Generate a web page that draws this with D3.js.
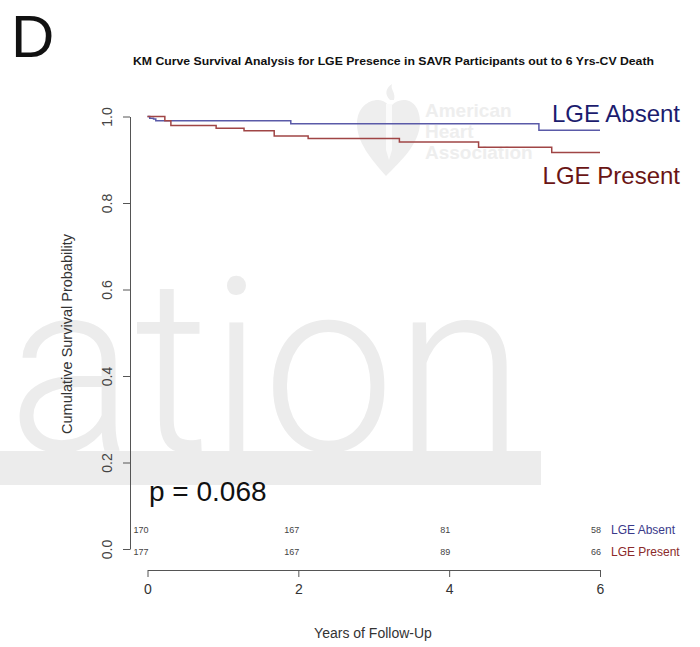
<!DOCTYPE html>
<html>
<head>
<meta charset="utf-8">
<script src="https://cdn.jsdelivr.net/npm/d3@7"></script>
<style>
  html, body { margin: 0; padding: 0; background: #fff; }
  svg { display: block; }
</style>
</head>
<body>
<svg id="chart" width="700" height="647"></svg>
<script>
// ---- data ----
const timesAbsent  = [0, 0.03, 0.08, 0.11, 1.90, 5.19];
const survAbsent   = [1.000, 0.996, 0.994, 0.990, 0.983, 0.968];
const timesPresent = [0, 0.23, 0.31, 0.91, 1.28, 1.68, 2.13, 3.34, 4.39, 5.36];
const survPresent  = [1.000, 0.990, 0.979, 0.973, 0.967, 0.955, 0.949, 0.941, 0.929, 0.917];
const followUpEnd  = 6;
const riskTimes      = [0, 2, 4, 6];
const atRiskAbsent   = [170, 167, 81, 58];
const atRiskPresent  = [177, 167, 89, 66];
const xTicks = [0, 2, 4, 6];
const yTicks = [0, 0.2, 0.4, 0.6, 0.8, 1.0];
const groupNames = ["LGE Absent", "LGE Present"];
const pValueText = "p = 0.068";
const titleText = "KM Curve Survival Analysis for LGE Presence in SAVR Participants out to 6 Yrs-CV Death";

const svg = d3.select("#chart");
const x = d3.scaleLinear().domain([0, 6]).range([147.5, 600]);
const y = d3.scaleLinear().domain([0, 1]).range([549, 116.5]);

const FONT = "'Liberation Sans', Arial, Helvetica, sans-serif";

// ---- watermark (background) ----
const wm = svg.append("g").attr("fill", "#ececec");
wm.append("text")
  .attr("x", 8).attr("y", 451)
  .attr("font-family", "Roboto, 'Liberation Sans', sans-serif")
  .attr("font-weight", 300)
  .attr("font-size", 244)
  .attr("textLength", 516).attr("lengthAdjust", "spacingAndGlyphs")
  .text("ation");
wm.append("rect").attr("x", 0).attr("y", 451).attr("width", 541).attr("height", 34);

// AHA logo watermark
const logo = svg.append("g").attr("fill", "#eeeeee");
logo.append("path")
  .attr("d", "M386,176 C372,160 357,143 357,124 C357,108 368,100 378,100 C384,100 388,104 390,108 C392,104 397,100 404,100 C414,100 420,110 420,122 C420,143 402,160 386,176 Z");
logo.append("path").attr("fill", "#fbfbfb")
  .attr("d", "M386,104 L392,104 L392,150 L389,160 L386,150 Z");
logo.append("path")
  .attr("d", "M390,100 C384,94 386,88 392,84 C390,90 396,92 394,100 Z");
logo.selectAll("text.aha").data(["American", "Heart", "Association"]).join("text")
  .attr("class", "aha")
  .attr("x", 425).attr("y", (d, i) => 117 + i * 21)
  .attr("font-family", FONT).attr("font-weight", "bold").attr("font-size", 19)
  .text(d => d);

// ---- panel letter ----
svg.append("text").attr("x", 11).attr("y", 57)
  .attr("font-family", FONT).attr("font-size", 60)
  .attr("fill", "#111").text("D");

// ---- title ----
svg.append("text").attr("x", 133).attr("y", 65)
  .attr("font-family", FONT).attr("font-weight", "bold").attr("font-size", 11.5)
  .attr("textLength", 521).attr("lengthAdjust", "spacingAndGlyphs")
  .attr("fill", "#111").text(titleText);

// ---- axes ----
const axisColor = "#555";
const yAxis = svg.append("g").attr("transform", "translate(130,0)")
  .call(d3.axisLeft(y).tickValues(yTicks).tickFormat(d3.format(".1f")).tickSize(7).tickSizeOuter(0));
yAxis.select(".domain").attr("stroke", axisColor);
yAxis.selectAll(".tick line").attr("stroke", axisColor);
yAxis.selectAll(".tick text")
  .attr("transform", "rotate(-90)")
  .attr("x", 0).attr("y", -18).attr("dy", 0)
  .attr("text-anchor", "middle")
  .attr("font-family", FONT).attr("font-size", 14).attr("fill", "#444");

const xAxis = svg.append("g").attr("transform", "translate(0,570)")
  .call(d3.axisBottom(x).tickValues(xTicks).tickFormat(d3.format("d")).tickSize(7).tickSizeOuter(0));
xAxis.select(".domain").attr("stroke", axisColor);
xAxis.selectAll(".tick line").attr("stroke", axisColor);
xAxis.selectAll(".tick text")
  .attr("y", 14).attr("dy", "0.71em")
  .attr("font-family", FONT).attr("font-size", 14).attr("fill", "#333");

svg.append("text").attr("x", 373).attr("y", 638).attr("text-anchor", "middle")
  .attr("font-family", FONT).attr("font-size", 14).attr("fill", "#333")
  .text("Years of Follow-Up");
svg.append("text").attr("transform", "translate(72,334) rotate(-90)")
  .attr("text-anchor", "middle")
  .attr("font-family", FONT).attr("font-size", 14.5).attr("fill", "#333")
  .text("Cumulative Survival Probability");

// ---- KM curves ----
const line = d3.line().x(d => x(d[0])).y(d => y(d[1])).curve(d3.curveStepAfter);
function steps(times, surv) {
  const pts = times.map((t, i) => [t, surv[i]]);
  pts.push([followUpEnd, surv[surv.length - 1]]);
  return pts;
}
const curveColors = ["#5a5aa8", "#a04545"];
svg.append("path").datum(steps(timesAbsent, survAbsent))
  .attr("fill", "none").attr("stroke", curveColors[0]).attr("stroke-width", 1.5).attr("d", line);
svg.append("path").datum(steps(timesPresent, survPresent))
  .attr("fill", "none").attr("stroke", curveColors[1]).attr("stroke-width", 1.5).attr("d", line);

// curve labels
svg.append("text").attr("x", 680).attr("y", 122).attr("text-anchor", "end")
  .attr("font-family", FONT).attr("font-size", 24).attr("fill", "#1c1c6e").text(groupNames[0]);
svg.append("text").attr("x", 680).attr("y", 184).attr("text-anchor", "end")
  .attr("font-family", FONT).attr("font-size", 24).attr("fill", "#6a1515").text(groupNames[1]);

// p-value
svg.append("text").attr("x", 149).attr("y", 501)
  .attr("font-family", FONT).attr("font-size", 28).attr("fill", "#111").text(pValueText);

// ---- numbers at risk ----
const riskRows = [atRiskAbsent, atRiskPresent];
const rowY = [533, 555];
const riskLabelColors = ["#3a3a8a", "#8a2a2a"];
riskRows.forEach((row, r) => {
  svg.selectAll("text.risk" + r).data(row).join("text")
    .attr("class", "risk" + r)
    .attr("x", (d, i) => x(riskTimes[i]) + 1).attr("y", rowY[r])
    .attr("text-anchor", "end")
    .attr("font-family", FONT).attr("font-size", 9).attr("fill", "#444")
    .text(d => d);
  svg.append("text").attr("x", 611).attr("y", rowY[r] + 0.5)
    .attr("font-family", FONT).attr("font-size", 12).attr("fill", riskLabelColors[r])
    .text(groupNames[r]);
});
</script>
</body>
</html>
